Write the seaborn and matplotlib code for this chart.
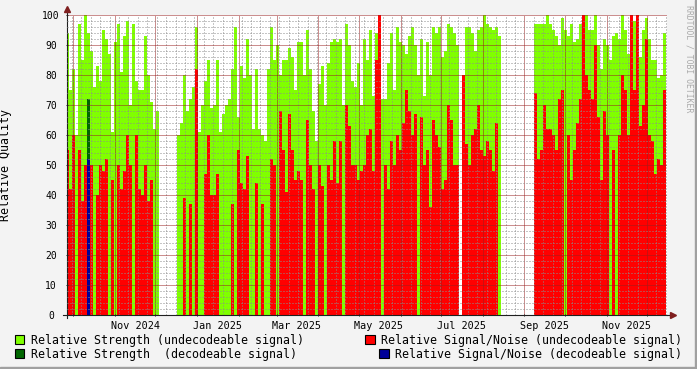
import numpy as np
import pandas as pd
import matplotlib
matplotlib.use("Agg")
import matplotlib.pyplot as plt
import matplotlib.dates as mdates
from matplotlib.ticker import MultipleLocator
from matplotlib.patches import Patch, Rectangle
import seaborn as sns

nan = np.nan

# ---------------- data ----------------
first_bin = "2024-09-25 14:00"     # start of the first sample column
bin_hours = 53.46                  # width of one sample column

strength_undec = [
    94, 75, 82, 60, 97, 85, 100, 94, 88, 76, 83, 78, 95, 92, 87, 61, 91, 97, 81, 93, 98, 70, 97, 78, 75,
    75, 93, 80, 71, 62, 68, nan, nan, nan, nan, nan, nan, 60, 64, 80, 68, 72, 76, 96, 61, 70, 78, 85, 69, 70,
    85, 61, 67, 70, 72, 82, 96, 66, 83, 79, 92, 80, 62, 82, 62, 60, 58, 82, 96, 85, 90, 80, 85, 85, 89,
    86, 75, 91, 91, 80, 95, 82, 68, 58, 77, 83, 70, 84, 91, 92, 91, 92, 70, 97, 90, 78, 76, 84, 70, 92,
    85, 95, 73, 94, 100, 72, 72, 84, 94, 75, 96, 91, 90, 87, 93, 96, 90, 80, 92, 73, 91, 80, 96, 94, 96,
    86, 88, 97, 96, 94, 90, nan, 76, 96, 96, 94, 88, 95, 96, 100, 97, 96, 95, 96, 93, nan, nan, nan, nan, nan,
    nan, nan, nan, nan, nan, nan, 97, 97, 97, 97, 100, 97, 95, 93, 90, 99, 95, 93, 97, 91, 92, 97, 100, 100, 95,
    95, 100, 90, 82, 92, 90, 85, 93, 94, 92, 100, 95, 87, 100, 98, 100, 86, 95, 99, 92, 85, 85, 79, 80, 94,
]
snr_undec = [
    55, 42, 60, 0, 55, 38, 50, 52, 50, 0, 40, 50, 48, 52, 0, 45, 0, 50, 42, 48, 60, 50, 0, 60, 42,
    40, 50, 38, 45, 0, 0, nan, nan, nan, nan, nan, nan, 0, 0, 39, 0, 37, 0, 82, 0, 0, 47, 60, 40, 40,
    47, 0, 0, 0, 0, 37, 0, 55, 44, 42, 53, 0, 0, 44, 0, 37, 0, 0, 52, 50, 0, 68, 55, 41, 67,
    55, 45, 48, 45, 0, 65, 50, 42, 0, 50, 43, 0, 50, 45, 58, 44, 58, 0, 70, 63, 50, 50, 45, 48, 50,
    60, 62, 48, 85, 100, 0, 50, 42, 58, 50, 60, 55, 64, 75, 68, 60, 67, 0, 66, 50, 55, 36, 65, 60, 56,
    42, 45, 70, 65, 50, 50, nan, 80, 57, 50, 60, 62, 70, 55, 53, 58, 55, 48, 64, 0, nan, nan, nan, nan, nan,
    nan, nan, nan, nan, nan, nan, 74, 52, 55, 70, 62, 62, 60, 55, 72, 75, 0, 60, 45, 55, 64, 72, 100, 80, 75,
    72, 90, 66, 45, 68, 60, 0, 55, 0, 60, 80, 75, 60, 100, 75, 100, 63, 70, 92, 60, 58, 47, 52, 50, 75,
]
dec_dates = ["2024-10-12"]
strength_dec = [72]
snr_dec = [52]

x_tick_labels = ["Nov 2024", "Jan 2025", "Mar 2025", "May 2025", "Jul 2025", "Sep 2025", "Nov 2025"]
y_ticks = list(range(0, 101, 10))
view_start = "2024-09-26 08:40"
view_end = "2025-12-15 20:40"

legend_labels = [
    "Relative Strength (undecodeable signal)",
    "Relative Signal/Noise (undecodeable signal)",
    "Relative Strength  (decodeable signal)",
    "Relative Signal/Noise (decodeable signal)",
]
colors = ["#80FF00", "#FF0000", "#006600", "#000099"]

# ---------------- figure ----------------
W, H = 697, 369
MONO = "DejaVu Sans Mono"
plt.rcParams["font.family"] = [MONO, "DejaVu Sans"]

fig = plt.figure(figsize=(W / 100, H / 100), dpi=100, facecolor="#F3F3F3")
ax = fig.add_axes([67 / W, (H - 315) / H, 600 / W, 300 / H])
ax.set_facecolor("white")

t0 = mdates.date2num(pd.Timestamp(first_bin))
step = bin_hours / 24.0
n = len(strength_undec)
centers = t0 + step * (np.arange(n) + 0.5)
brange = (t0, t0 + step * n)


def draw(xs, vals, color, z):
    df = pd.DataFrame({"t": np.asarray(xs, dtype=float), "v": np.asarray(vals, dtype=float)}).dropna()
    sns.histplot(data=df, x="t", weights="v", binwidth=step, binrange=brange, color=color, alpha=1,
                 linewidth=0, element="bars", fill=True, ax=ax, zorder=z,
                 antialiased=False)


draw(centers, strength_undec, colors[0], 1)
draw(centers, snr_undec, colors[1], 1.1)
dec_x = mdates.date2num(pd.to_datetime(dec_dates))
draw(dec_x, strength_dec, colors[2], 1.2)
draw(dec_x, snr_dec, colors[3], 1.3)

ax.set_xlim(mdates.date2num(pd.Timestamp(view_start)), mdates.date2num(pd.Timestamp(view_end)))
ax.set_ylim(0, 100)

# grid
ax.xaxis.set_major_locator(mdates.MonthLocator())
ax.xaxis.set_minor_locator(mdates.WeekdayLocator(byweekday=mdates.MO))
ax.xaxis.set_major_formatter(plt.NullFormatter())
ax.set_yticks(y_ticks)
ax.yaxis.set_minor_locator(MultipleLocator(2))
ax.set_axisbelow(False)
ax.grid(which="minor", color=(0.55, 0.55, 0.55, 0.28), linestyle=(0, (1, 2)), linewidth=0.72)
ax.grid(which="major", color=(0.6, 0.12, 0.12, 0.3), linestyle=(0, (1, 1)), linewidth=0.72)

ax.tick_params(axis="both", which="major", length=2, width=0.7, direction="inout", color="#202020")
ax.tick_params(axis="both", which="minor", length=0)
ax.tick_params(axis="y", labelsize=7, pad=10.5, labelcolor="black")
for lab in ax.get_yticklabels():
    lab.set_horizontalalignment("center")

# month labels centred half a month after the month start
label_pos = [mdates.date2num(pd.to_datetime(s, format="%b %Y")) + 15 for s in x_tick_labels]
sec = ax.secondary_xaxis("bottom")
sec.set_xticks(label_pos, x_tick_labels)
sec.tick_params(length=0, pad=4, labelsize=7.3)
sec.spines["bottom"].set_visible(False)

for s in ("top", "right"):
    ax.spines[s].set_visible(False)
for s in ("left", "bottom"):
    ax.spines[s].set_color("#202020")
    ax.spines[s].set_linewidth(0.8)

ax.set_xlabel("")
ax.set_ylabel("Relative Quality", fontsize=8.4)
ax.yaxis.set_label_coords(-55 / 600, 0.5)

# axis extensions and arrows
axis_col = "#202020"
arrow_col = "#7F1F1F"
ax.plot([-4 / 600, 0], [0, 0], transform=ax.transAxes, clip_on=False, color=axis_col, lw=0.8)
ax.plot([0, 0], [-3 / 300, 0], transform=ax.transAxes, clip_on=False, color=axis_col, lw=0.8)
ax.plot([1, 1 + 6 / 600], [0, 0], transform=ax.transAxes, clip_on=False, color=axis_col, lw=0.8)
ax.plot([1 + 6 / 600], [0], marker=">", ms=4, color=arrow_col, transform=ax.transAxes, clip_on=False)
ax.plot([0, 0], [1, 1 + 6 / 300], transform=ax.transAxes, clip_on=False, color=axis_col, lw=0.8)
ax.plot([0], [1 + 6 / 300], marker="^", ms=4, color=arrow_col, transform=ax.transAxes, clip_on=False)

# legends
font = {"family": MONO, "size": 8.4}
hs = [Patch(facecolor=c, edgecolor="black", linewidth=0.8) for c in colors]
common = dict(frameon=False, prop=font, handlelength=0.8, handleheight=0.8,
              handletextpad=0.55, labelspacing=0.05, borderpad=0, borderaxespad=0)
fig.legend(handles=[hs[0], hs[2]], labels=[legend_labels[0], legend_labels[2]],
           loc="upper left", bbox_to_anchor=(15 / W, 1 - 334 / H), **common)
fig.legend(handles=[hs[1]], labels=[legend_labels[1]],
           loc="upper right", bbox_to_anchor=(682 / W, 1 - 334 / H), **common)
fig.legend(handles=[hs[3]], labels=[legend_labels[3]],
           loc="upper right", bbox_to_anchor=(682 / W, 1 - 348 / H), **common)

# watermark
fig.text(689 / W, 1 - 5 / H, "RRDTOOL / TOBI OETIKER", rotation=270, ha="center", va="top",
         fontsize=5.9, color="#AAAAAA", family=MONO)

# frame shading (bottom / right)
fig.patches.append(Rectangle((0, 0), 1, 2 / H, transform=fig.transFigure, color="#A0A0A0", zorder=-1))
fig.patches.append(Rectangle((1 - 2 / W, 0), 2 / W, 1, transform=fig.transFigure, color="#A0A0A0", zorder=-1))

fig.savefig("out.png", dpi=100, facecolor=fig.get_facecolor())
